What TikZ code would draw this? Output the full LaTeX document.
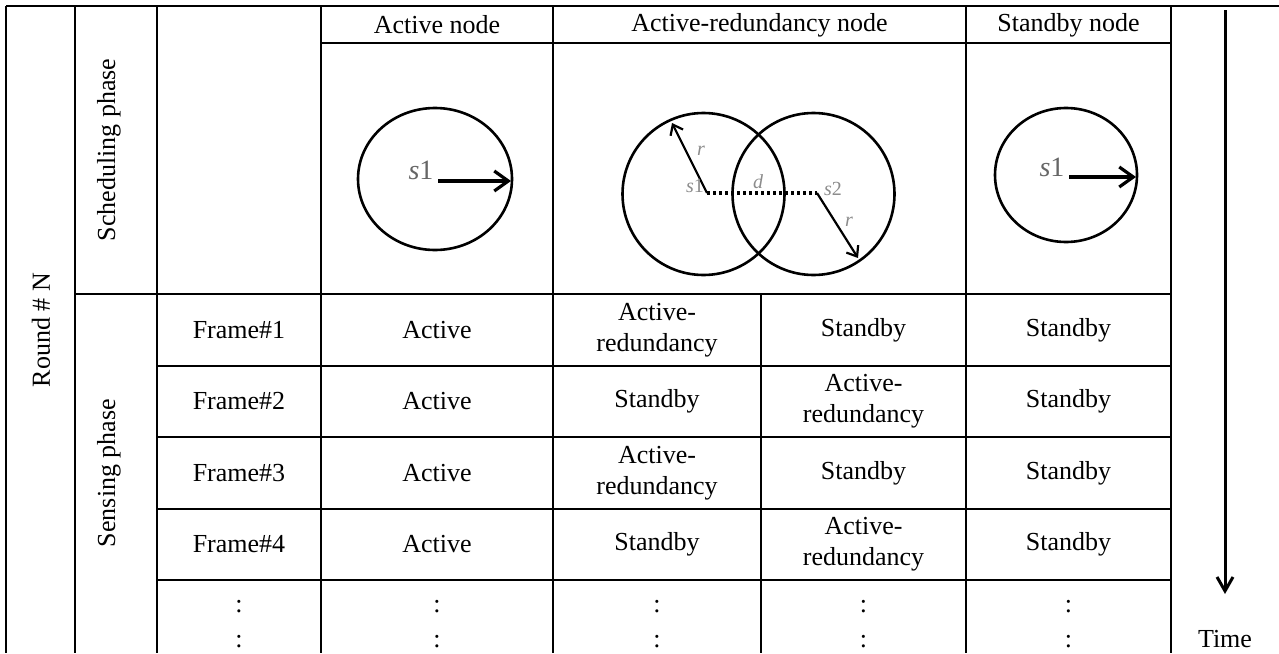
\documentclass[tikz,border=0pt]{standalone}
\usepackage{fontspec}
\setmainfont{Liberation Serif}
\usetikzlibrary{arrows.meta}

\begin{document}
\begin{tikzpicture}[x=0.5pt, y=-0.5pt,
    grid/.style={line width=1.1pt},
    cell/.style={align=center, inner sep=0pt, font=\fontsize{13}{15.5}\selectfont},
    ring/.style={line width=1.3pt},
    big arrow/.style={line width=2pt, -{Straight Barb[length=7pt,width=10pt,line width=1.6pt]}},
    thin arrow/.style={line width=1.1pt, -{Straight Barb[length=4.5pt,width=7pt,line width=1.1pt]}},
    tag/.style={inner sep=0pt, text=black!60, font=\fontsize{14}{14}\selectfont\itshape},
    small tag/.style={inner sep=0pt, text=black!45, font=\fontsize{10}{10}\selectfont\itshape}]
    \useasboundingbox (0,0) rectangle (1279,653);

    % Table lines
    \draw[grid] (6,6) -- (1279,6);
    \foreach \x in {6,75,157,321,553,966,1171}
        \draw[grid] (\x,6) -- (\x,653);
    \draw[grid] (761,294) -- (761,653);
    \draw[grid] (321,43) -- (1171,43);
    \draw[grid] (75,294) -- (1171,294);
    \foreach \y in {366,437,509,580}
        \draw[grid] (157,\y) -- (1171,\y);

    % Headers
    \node[cell] (hact) at (437,25) {Active node};
    \node[cell] (hred) at (759.5,25) {Active-redundancy node};
    \node[cell] (hstb) at (1068.5,25) {Standby node};
    \node[cell, rotate=90] (round) at (41,330) {Round \# N};
    \node[cell, rotate=90] (sched) at (109,150) {Scheduling phase};
    \node[cell, rotate=90] (sense) at (109,473) {Sensing phase};

    % Active node sketch
    \coordinate (c1) at (435,179);
    \coordinate (c1from) at (438,181);
    \coordinate (c1to) at (511,181);
    \draw[ring] (c1) ellipse [x radius=77, y radius=71];
    \draw[big arrow] (c1from) -- (c1to);
    \node[tag] (s1act) at (421,170) {s\upshape 1};

    % Active-redundancy sketch
    \coordinate (c2) at (703.5,194);
    \coordinate (c3) at (813.5,194);
    \coordinate (p1) at (707,193);
    \coordinate (p2) at (817,193);
    \coordinate (r1) at (672,123);
    \coordinate (r2) at (858,258);
    \draw[ring] (c2) circle [radius=81];
    \draw[ring] (c3) circle [radius=81];
    \draw[line width=1.6pt, dash pattern=on 1.6pt off 1.4pt] (p1) -- (p2);
    \draw[thin arrow] (p1) -- (r1);
    \draw[thin arrow] (p2) -- (r2);
    \node[small tag] (rlab1) at (701,151) {r};
    \node[small tag] (rlab2) at (849,222) {r};
    \node[small tag] (dlab) at (758,182) {d};
    \node[small tag] (s1red) at (695,186) {s\upshape 1};
    \node[small tag] (s2red) at (833,189) {s\upshape 2};

    % Standby node sketch
    \coordinate (c4) at (1066,175);
    \coordinate (c4from) at (1069,177);
    \coordinate (c4to) at (1136,177);
    \draw[ring] (c4) ellipse [x radius=71, y radius=67];
    \draw[big arrow] (c4from) -- (c4to);
    \node[tag] (s1stb) at (1052,167) {s\upshape 1};

    % Frames
    \foreach \i/\y in {1/330,2/401.5,3/473,4/544.5} {
        \node[cell] (frame\i) at (239,\y) {Frame\#\i};
        \node[cell] (act\i) at (437,\y) {Active};
        \node[cell] (stb\i) at (1068.5,\y) {Standby};
    }
    \foreach \i/\y in {1/330,3/473} {
        \node[cell] (redl\i) at (657,\y) {Active-\\redundancy};
        \node[cell] (redr\i) at (863.5,\y) {Standby};
    }
    \foreach \i/\y in {2/401.5,4/544.5} {
        \node[cell] (redl\i) at (657,\y) {Standby};
        \node[cell] (redr\i) at (863.5,\y) {Active-\\redundancy};
    }
    \foreach \x [count=\k] in {239,437,657,863.5,1068.5}
        \node[cell] (more\k) at (\x,624) {:\\[2pt]:};

    % Time axis
    \coordinate (tstart) at (1225,10);
    \coordinate (tend) at (1225,594);
    \draw[line width=1.5pt, -{Straight Barb[length=7pt,width=8pt,line width=1.5pt]}] (tstart) -- (tend);
    \node[cell] (time) at (1225,639) {Time};
\end{tikzpicture}
\end{document}
